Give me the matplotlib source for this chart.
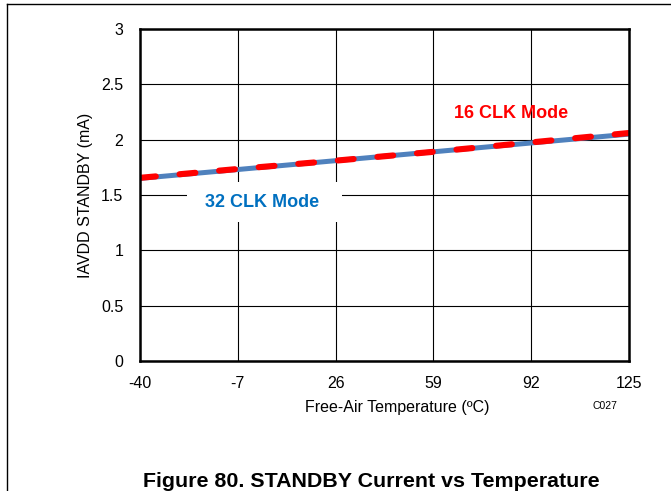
import matplotlib
matplotlib.use('Agg')
from matplotlib import pyplot as plt
from matplotlib.lines import Line2D
from matplotlib.patches import Rectangle

plt.rcParams['font.family'] = ['Liberation Sans', 'DejaVu Sans']
plt.rcParams['axes.unicode_minus'] = False

temps = [-40, -7, 26, 59, 92, 125]
clk32 = [1.65, 1.73, 1.81, 1.89, 1.97, 2.05]
clk16 = [1.655, 1.735, 1.81, 1.89, 1.975, 2.06]
yticks = [0, 0.5, 1, 1.5, 2, 2.5, 3]
ytick_labels = ['0', '0.5', '1', '1.5', '2', '2.5', '3']

fig = plt.figure(figsize=(6.71, 4.91), dpi=100)
ax = fig.add_axes([0.2086, 0.2648, 0.7288, 0.6762])

ax.plot(temps, clk32, color='#4F81BD', lw=3.6, solid_capstyle='butt', zorder=3)
line16, = ax.plot(temps, clk16, color='#FF0000', lw=4.4, zorder=4,
                  dash_capstyle='round')
line16.set_dashes((2.6, 3.9))

ax.set_xlim(-40, 125)
ax.set_ylim(0, 3)
ax.set_xticks(temps)
ax.set_yticks(yticks)
ax.set_yticklabels(ytick_labels)
ax.tick_params(length=0, labelsize=11.5)
ax.tick_params(axis='x', pad=11)
ax.tick_params(axis='y', pad=12)
ax.grid(True, color='black', lw=0.8)
for s in ax.spines.values():
    s.set_linewidth(1.8)
    s.set_zorder(6)

ax.set_ylabel('IAVDD STANDBY (mA)', fontsize=11.5, labelpad=6)
ax.text(0.526, -0.139, 'Free-Air Temperature (ºC)', fontsize=11.5,
        ha='center', va='center', transform=ax.transAxes)

# white label box behind "32 CLK Mode"
ax.add_patch(Rectangle((-24.1, 1.256), 52.3, 0.361, facecolor='white',
                       edgecolor='none', zorder=2))
ax.text(85.3, 2.24, '16 CLK Mode', color='#FF0000', fontsize=13,
        fontweight='bold', ha='center', va='center', zorder=5)
ax.text(1.2, 1.436, '32 CLK Mode', color='#0070C0', fontsize=13,
        fontweight='bold', ha='center', va='center', zorder=5)

fig.text(0.902, 0.174, 'C027', fontsize=7.5, ha='center', va='center')
fig.text(0.554, 0.02, 'Figure 80. STANDBY Current vs Temperature',
         fontsize=15.4, fontweight='bold', ha='center', va='center')

# page frame
fig.add_artist(Line2D([0.0105, 0.0105], [0, 0.992], color='black', lw=1))
fig.add_artist(Line2D([0.0105, 1], [0.992, 0.992], color='black', lw=1))

fig.savefig('out.png', dpi=100)
